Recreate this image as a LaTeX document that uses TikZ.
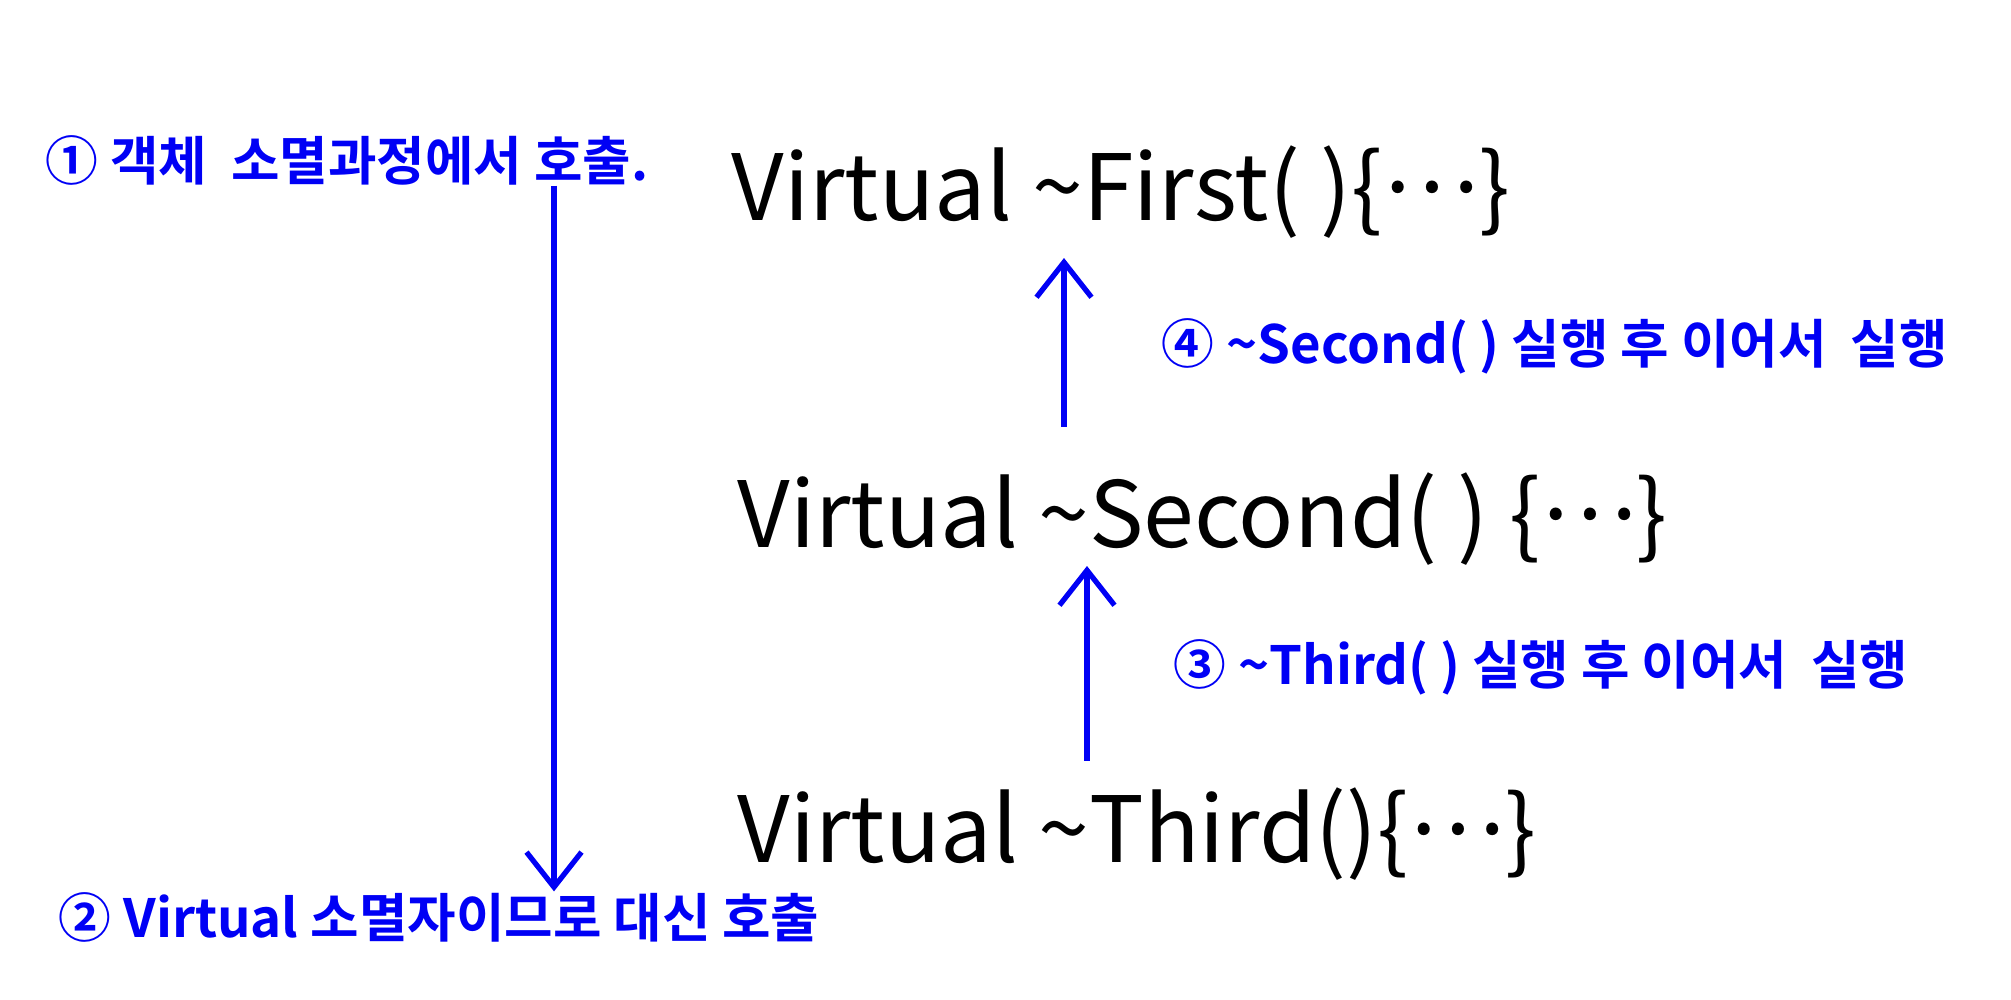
\documentclass[tikz,border=0pt]{standalone}
\usepackage{fontspec}
\usepackage{tikz}
\usetikzlibrary{arrows.meta, positioning}
\setmainfont{Noto Sans CJK KR}
\newfontfamily\penfont{Noto Sans CJK KR Bold}
\definecolor{cPen}{RGB}{0,0,245}
\tikzset{
	code/.style    ={anchor=west, inner sep=0pt, font=\fontsize{26}{30}\selectfont, text=black},
	note/.style    ={anchor=west, inner sep=0pt, font=\penfont\fontsize{15}{18}\selectfont, text=cPen},
	callarrow/.style={cPen, line width=1.5pt, -{Straight Barb[length=3.5mm, width=5.5mm, line width=1.5pt]}},
}
\newcommand{\tld}{\textasciitilde}
\newcommand{\body}{\{\raisebox{0.3em}{…}\}}

\begin{document}
\begin{tikzpicture}
	\useasboundingbox (0,0) rectangle (20.11,10);
	% destructor chain
	\node[code] (first)  at (7.31,8.08) {Virtual \tld First( )\body};
	\node[code] (second) at (7.37,4.81) {Virtual \tld Second( ) \body};
	\node[code] (third)  at (7.37,1.66) {Virtual \tld Third()\body};
	% notes
	\node[note] (call)  at (0.45,8.40) {① 객체\ \ 소멸과정에서 호출.};
	\node[note] (virt)  at (0.58,0.83) {② Virtual 소멸자이므로 대신 호출};
	\node[note] (then3) at (11.73,3.33) {③ \tld Third( ) 실행 후 이어서\ \ 실행};
	\node[note] (then4) at (11.61,6.54) {④ \tld Second( ) 실행 후 이어서\ \ 실행};
	\coordinate (xdown) at (5.54,0);
	\coordinate (xup1) at (10.64,0);
	\coordinate (xup2) at (10.87,0);
	\draw[callarrow] (call.south -| xdown) -- (virt.north -| xdown);
	\draw[callarrow, shorten <=0.26cm] (third.north -| xup2) -- (second.south -| xup2);
	\draw[callarrow, shorten <=0.45cm, shorten >=0.19cm] (second.north -| xup1) -- (first.south -| xup1);
\end{tikzpicture}
\end{document}
